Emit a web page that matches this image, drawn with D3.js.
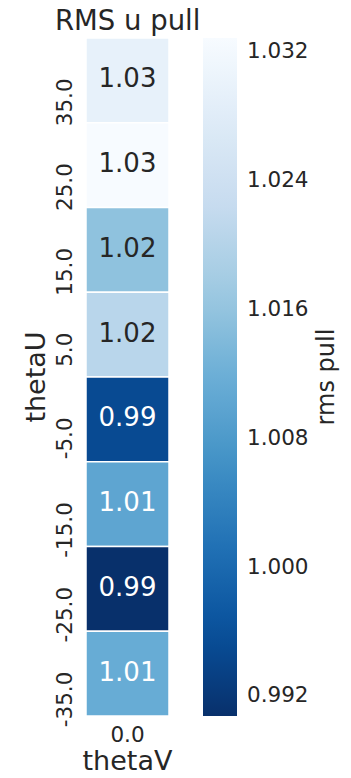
<!DOCTYPE html>
<html>
<head>
<meta charset="utf-8">
<script src="https://cdn.jsdelivr.net/npm/d3@7"></script>
<style>
  html, body { margin: 0; padding: 0; background: #fff; }
  text { font-family: "DejaVu Sans", sans-serif; fill: #262626; }
</style>
</head>
<body>
<svg id="chart" width="351" height="778"></svg>
<script>
// Heatmap of RMS u pull over thetaU (rows) for a single thetaV column
const thetaU = ["35.0", "25.0", "15.0", "5.0", "-5.0", "-15.0", "-25.0", "-35.0"];
const thetaV = ["0.0"];
const rmsPull = [1.0294, 1.0328, 1.0155, 1.0206, 0.9949, 1.0101, 0.9907, 1.0113];
const colorTicks = [0.992, 1.000, 1.008, 1.016, 1.024, 1.032];

// Blues palette stops (light to dark)
const bluesStops = ["#f7fbff", "#deebf7", "#c6dbef", "#9ecae1", "#6baed6",
                    "#4292c6", "#2171b5", "#08519c", "#08306b"];

const svg = d3.select("#chart");
const plotTop = 38, plotBottom = 716;
const heatLeft = 86, heatRight = 169;
const cbLeft = 203, cbRight = 237;

const vmin = d3.min(rmsPull), vmax = d3.max(rmsPull);
const blues = d3.scaleLinear()
  .domain(d3.range(bluesStops.length).map(i => i / (bluesStops.length - 1)))
  .range(bluesStops)
  .interpolate(d3.interpolateRgb);
// high values light, low values dark
const color = v => blues(1 - (v - vmin) / (vmax - vmin));

// relative luminance, used to pick a readable annotation colour
function luminance(c) {
  const rgb = d3.rgb(c);
  const lin = ch => {
    const s = ch / 255;
    return s <= 0.03928 ? s / 12.92 : Math.pow((s + 0.055) / 1.055, 2.4);
  };
  return 0.2126 * lin(rgb.r) + 0.7152 * lin(rgb.g) + 0.0722 * lin(rgb.b);
}

const x = d3.scaleBand().domain(thetaV).range([heatLeft, heatRight]);
const y = d3.scaleBand().domain(thetaU).range([plotTop, plotBottom]);

// cells
const cells = svg.append("g");
thetaU.forEach((u, i) => {
  const v = rmsPull[i];
  cells.append("rect")
    .attr("x", x("0.0"))
    .attr("y", y(u))
    .attr("width", x.bandwidth())
    .attr("height", y.bandwidth())
    .attr("fill", color(v))
    .attr("stroke", "#fff")
    .attr("stroke-width", 1.5);
  cells.append("text")
    .attr("x", x("0.0") + x.bandwidth() / 2)
    .attr("y", y(u) + y.bandwidth() / 2)
    .attr("dy", "0.27em")
    .attr("text-anchor", "middle")
    .attr("font-size", 26)
    .style("fill", luminance(color(v)) > 0.408 ? "#262626" : "#ffffff")
    .text(v.toFixed(2));
});

// y tick labels (rotated, hanging from the row centre)
thetaU.forEach(u => {
  const cy = y(u) + y.bandwidth() / 2;
  svg.append("text")
    .attr("transform", `translate(72,${cy - 2}) rotate(-90)`)
    .attr("text-anchor", "end")
    .attr("font-size", 21.5)
    .text(u);
});

// x tick label
svg.append("text")
  .attr("x", x("0.0") + x.bandwidth() / 2)
  .attr("y", 742)
  .attr("text-anchor", "middle")
  .attr("font-size", 21.5)
  .text(thetaV[0]);

// axis titles
svg.append("text")
  .attr("x", x("0.0") + x.bandwidth() / 2)
  .attr("y", 770)
  .attr("text-anchor", "middle")
  .attr("font-size", 27)
  .text("thetaV");

svg.append("text")
  .attr("transform", `translate(45,${(plotTop + plotBottom) / 2}) rotate(-90)`)
  .attr("text-anchor", "middle")
  .attr("font-size", 27)
  .text("thetaU");

// title
svg.append("text")
  .attr("x", 55)
  .attr("y", 30)
  .attr("font-size", 27.5)
  .text("RMS u pull");

// colorbar
const defs = svg.append("defs");
const grad = defs.append("linearGradient")
  .attr("id", "cbgrad")
  .attr("x1", 0).attr("y1", 1).attr("x2", 0).attr("y2", 0);
d3.range(0, 1.0001, 0.05).forEach(t => {
  grad.append("stop")
    .attr("offset", t)
    .attr("stop-color", color(vmin + t * (vmax - vmin)));
});
svg.append("rect")
  .attr("x", cbLeft).attr("y", plotTop)
  .attr("width", cbRight - cbLeft).attr("height", plotBottom - plotTop)
  .attr("fill", "url(#cbgrad)");

const cby = d3.scaleLinear().domain([vmin, vmax]).range([plotBottom, plotTop]);
const cbAxis = d3.axisRight(cby).tickValues(colorTicks).tickFormat(d3.format(".3f")).tickSize(0).tickPadding(10);
const cbG = svg.append("g")
  .attr("transform", `translate(${cbRight},0)`)
  .call(cbAxis);
cbG.select(".domain").remove();
cbG.selectAll("text")
  .attr("font-size", 21.5)
  .attr("font-family", "DejaVu Sans, sans-serif")
  .style("fill", "#262626");

svg.append("text")
  .attr("transform", `translate(334,${(plotTop + plotBottom) / 2}) rotate(-90)`)
  .attr("text-anchor", "middle")
  .attr("font-size", 24)
  .text("rms pull");
</script>
</body>
</html>
